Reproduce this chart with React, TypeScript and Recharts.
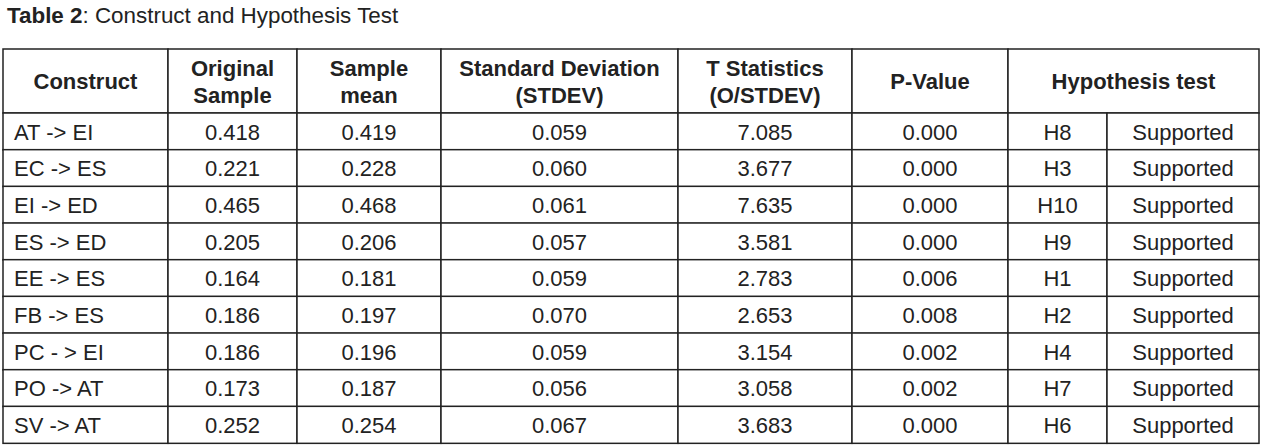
import { ComposedChart, Bar, XAxis, YAxis } from 'recharts';

const constructs = ['AT -> EI', 'EC -> ES', 'EI -> ED', 'ES -> ED', 'EE -> ES', 'FB -> ES', 'PC - > EI', 'PO -> AT', 'SV -> AT'];
const originalSample = [0.418, 0.221, 0.465, 0.205, 0.164, 0.186, 0.186, 0.173, 0.252];
const sampleMean = [0.419, 0.228, 0.468, 0.206, 0.181, 0.197, 0.196, 0.187, 0.254];
const stdev = [0.059, 0.06, 0.061, 0.057, 0.059, 0.07, 0.059, 0.056, 0.067];
const tStats = [7.085, 3.677, 7.635, 3.581, 2.783, 2.653, 3.154, 3.058, 3.683];
const pValues = [0.0, 0.0, 0.0, 0.0, 0.006, 0.008, 0.002, 0.002, 0.0];
const hypotheses = ['H8', 'H3', 'H10', 'H9', 'H1', 'H2', 'H4', 'H7', 'H6'];
const results = ['Supported', 'Supported', 'Supported', 'Supported', 'Supported', 'Supported', 'Supported', 'Supported', 'Supported'];

const headers = [
  ['Construct'],
  ['Original', 'Sample'],
  ['Sample', 'mean'],
  ['Standard Deviation', '(STDEV)'],
  ['T Statistics', '(O/STDEV)'],
  ['P-Value'],
  ['Hypothesis test'],
];

// layout: column widths in px (sum = table width)
const bodyWidths = [165, 129, 144, 237, 174, 156, 99, 152];
const headWidths = [165, 129, 144, 237, 174, 156, 251];
const TABLE_W = 1256;

const FONT = "'Liberation Sans', Arial, sans-serif";
const INK = '#222';
const LINE = '#222';

const fmt = (v: number) => v.toFixed(3);

const bodyRows = constructs.map((c, i) => {
  const texts = [c, fmt(originalSample[i]), fmt(sampleMean[i]), fmt(stdev[i]), fmt(tStats[i]), fmt(pValues[i]), hypotheses[i], results[i]];
  const row: Record<string, any> = { construct: c };
  texts.forEach((t, j) => {
    row[`t${j}`] = t;
    row[`w${j}`] = bodyWidths[j];
  });
  return row;
});

const headRow: Record<string, any> = { name: 'header' };
headWidths.forEach((w, j) => {
  headRow[`w${j}`] = w;
});
const headRows = [headRow];

const bodyCell = (col: number) => (props: any) => {
  const { x, y, width, height, payload } = props;
  const left = col === 0;
  return (
    <g>
      <rect x={x} y={y} width={width} height={height} fill="#fff" stroke={LINE} strokeWidth={1.5} />
      <text
        x={left ? x + 11 : x + width / 2}
        y={y + height / 2 + 8}
        textAnchor={left ? 'start' : 'middle'}
        fontFamily={FONT}
        fontSize={22}
        fill={INK}
      >
        {payload[`t${col}`]}
      </text>
    </g>
  );
};

const headCell = (col: number) => (props: any) => {
  const { x, y, width, height } = props;
  const lines = headers[col];
  const cy = y + height / 2 + 8;
  const start = cy - ((lines.length - 1) * 27) / 2;
  return (
    <g>
      <rect x={x} y={y} width={width} height={height} fill="#fff" stroke={LINE} strokeWidth={1.5} />
      <text textAnchor="middle" fontFamily={FONT} fontSize={22} fontWeight="bold" fill={INK}>
        {lines.map((l, k) => (
          <tspan key={k} x={x + width / 2} y={start + k * 27}>
            {l}
          </tspan>
        ))}
      </text>
    </g>
  );
};

export default function App() {
  return (
    <div style={{ position: 'absolute', left: 0, top: 0, width: 1264, height: 448, background: '#fff' }}>
      <div style={{ position: 'absolute', left: 7, top: 5, fontFamily: FONT, fontSize: 22.4, lineHeight: '22px', color: INK, whiteSpace: 'nowrap' }}>
        <b>Table 2</b>: Construct and Hypothesis Test
      </div>
      <div style={{ position: 'absolute', left: 0, top: 44 }}>
        <ComposedChart
          width={1264}
          height={74}
          layout="vertical"
          data={headRows}
          barCategoryGap={0}
          margin={{ top: 5, right: 5, bottom: 5, left: 3 }}
        >
          <XAxis type="number" hide domain={[0, TABLE_W]} />
          <YAxis type="category" dataKey="name" hide />
          {headWidths.map((_, j) => (
            <Bar key={j} dataKey={`w${j}`} stackId="h" shape={headCell(j)} isAnimationActive={false} />
          ))}
        </ComposedChart>
      </div>
      <div style={{ position: 'absolute', left: 0, top: 108 }}>
        <ComposedChart
          width={1264}
          height={340}
          layout="vertical"
          data={bodyRows}
          barCategoryGap={0}
          margin={{ top: 5, right: 5, bottom: 5, left: 3 }}
        >
          <XAxis type="number" hide domain={[0, TABLE_W]} />
          <YAxis type="category" dataKey="construct" hide />
          {bodyWidths.map((_, j) => (
            <Bar key={j} dataKey={`w${j}`} stackId="b" shape={bodyCell(j)} isAnimationActive={false} />
          ))}
        </ComposedChart>
      </div>
    </div>
  );
}
